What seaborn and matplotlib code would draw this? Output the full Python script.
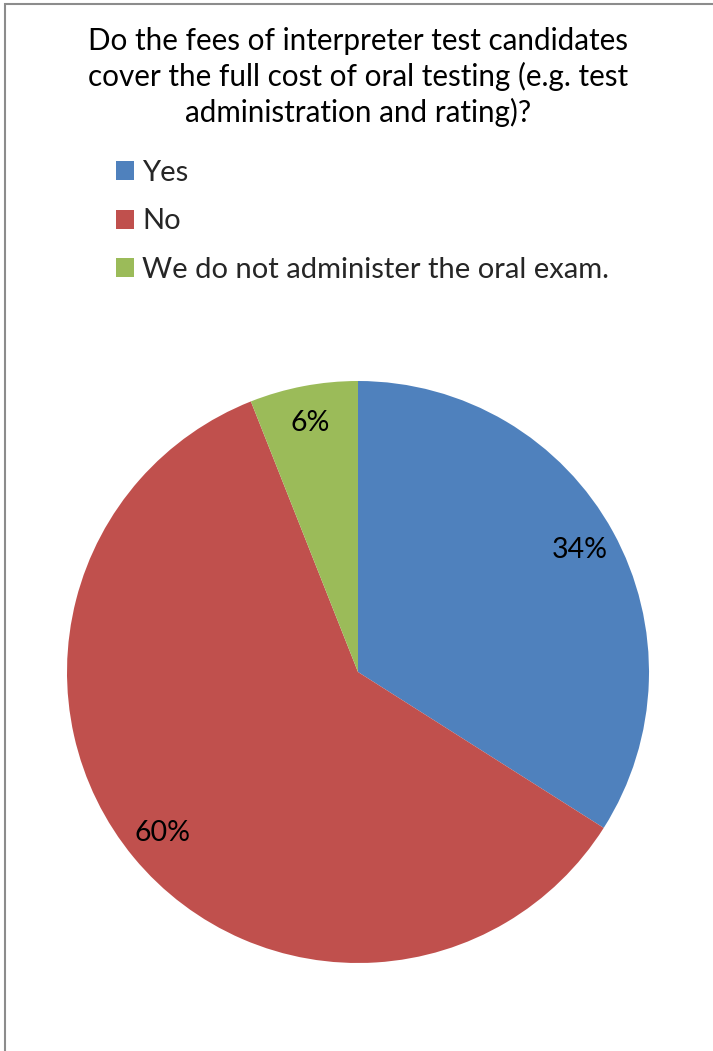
import matplotlib
matplotlib.use("Agg")
import matplotlib.pyplot as plt
import seaborn as sns
from matplotlib.patches import Rectangle

categories = ["Yes", "No", "We do not administer the oral exam."]
values = [34, 60, 6]
colors = ["#4F81BD", "#C0504D", "#9BBB59"]
title = "Do the fees of interpreter test candidates\ncover the full cost of oral testing (e.g. test\nadministration and rating)?"

sns.set_theme(style="white")
plt.rcParams['font.family'] = ['Lato', 'DejaVu Sans']

W, H = 713, 1051
fig = plt.figure(figsize=(W / 100, H / 100), dpi=100)
fig.patch.set_facecolor("white")

cx, cy, r = 358, 672, 291
ax = fig.add_axes([(cx - r) / W, 1 - (cy + r) / H, 2 * r / W, 2 * r / H])
wedges, texts, autotexts = ax.pie(
    values, colors=colors, startangle=90, counterclock=False,
    autopct=lambda p: f"{p:.0f}%", pctdistance=0.87, radius=1,
    wedgeprops=dict(linewidth=0), textprops=dict(fontsize=20.5, color="black"))
ax.set_xlim(-1, 1)
ax.set_ylim(-1, 1)
ax.set_aspect("equal")
ax.axis("off")

fig.text(358 / W, 1 - 27 / H, title, ha="center", va="top", fontsize=21.3,
         linespacing=1.29, color="black")

leg = fig.legend(wedges, categories, loc="upper left",
                 bbox_to_anchor=(116 / W, 1 - 160 / H), frameon=False,
                 fontsize=21, handlelength=0.62, handleheight=0.62,
                 handletextpad=0.28, labelspacing=0.77, borderpad=0,
                 borderaxespad=0)

fig.patches.append(Rectangle((5 / W, -0.1), 1.2, (1 - 4 / H) + 0.1,
                             transform=fig.transFigure, fill=False,
                             edgecolor="#8c8c8c", linewidth=1.5))

fig.savefig("out.png", dpi=100)
